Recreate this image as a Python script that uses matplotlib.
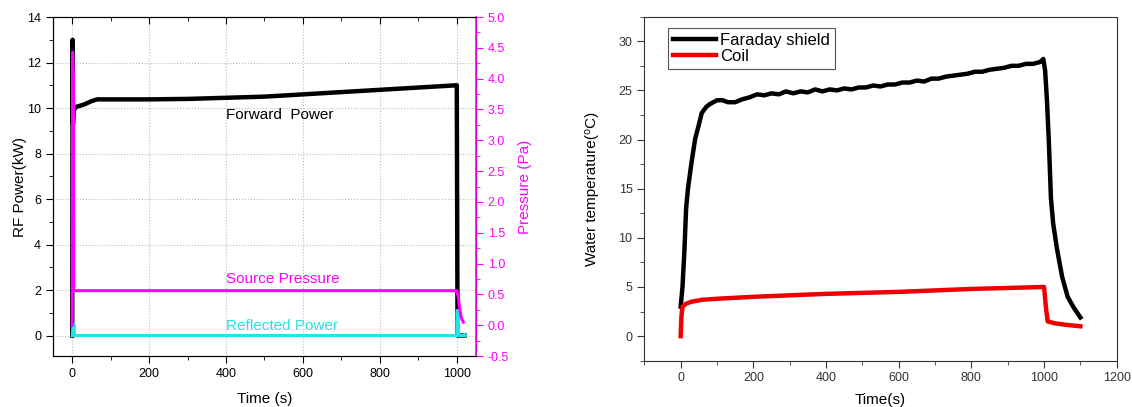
import numpy as np
import matplotlib.pyplot as plt

plt.rcParams['font.family'] = ['Liberation Sans', 'DejaVu Sans']

# left panel data (time s)
fwd_t = [0, 1, 2, 4, 10, 30, 50, 65, 100, 200, 300, 400, 500, 600, 700, 800, 900, 1000, 1002, 1020]
fwd_kw = [0, 13.0, 9.3, 9.9, 10.05, 10.15, 10.3, 10.38, 10.38, 10.38, 10.4, 10.45, 10.5, 10.6, 10.7, 10.8, 10.9, 11.0, 0.0, 0.0]

refl_t = [0, 2, 5, 6, 1000, 1001, 1004, 1005, 1018, 1020, 1022]
refl_kw = [0, 0.5, 0.5, 0, 0, 1.1, 1.1, 0, 0, 0.05, 0]

press_t = [0, 1, 3, 4, 200, 400, 600, 800, 1000, 1004, 1008, 1012, 1017]
press_pa = [0, 4.43, 4.0, 0.56, 0.56, 0.56, 0.56, 0.56, 0.56, 0.45, 0.25, 0.12, 0.05]

# right panel data
fs_t = [0, 5, 10, 15, 20, 30, 40, 50, 58, 70, 80, 100, 115, 130, 150, 170, 190, 210, 230, 250,
        270, 290, 310, 330, 350, 370, 390, 410, 430, 450, 470, 490, 510, 530, 550, 570, 590,
        610, 630, 650, 670, 690, 710, 730, 750, 770, 790, 810, 830, 850, 870, 890, 910, 930,
        950, 970, 990, 998, 1003, 1008, 1013, 1019, 1025, 1035, 1050, 1065, 1080, 1100]
fs_temp = [3.0, 5.0, 8.5, 13.0, 15.0, 17.7, 20.1, 21.5, 22.7, 23.3, 23.6, 24.0, 24.0, 23.8, 23.8,
           24.1, 24.3, 24.6, 24.5, 24.7, 24.6, 24.9, 24.7, 24.9, 24.8, 25.1, 24.9, 25.1, 25.0,
           25.2, 25.1, 25.3, 25.3, 25.5, 25.4, 25.6, 25.6, 25.8, 25.8, 26.0, 25.9, 26.2, 26.2,
           26.4, 26.5, 26.6, 26.7, 26.9, 26.9, 27.1, 27.2, 27.3, 27.5, 27.5, 27.7, 27.7, 27.9,
           28.2, 27.0, 24.0, 20.0, 14.0, 11.5, 9.0, 6.0, 4.0, 3.0, 1.9]

coil_t = [0, 2, 5, 15, 30, 60, 100, 200, 400, 600, 800, 1000, 1005, 1010, 1030, 1060, 1100]
coil_temp = [0, 2.0, 3.0, 3.3, 3.5, 3.7, 3.8, 4.0, 4.3, 4.5, 4.8, 5.0, 3.0, 1.5, 1.3, 1.15, 1.0]

MAG = '#ff00ff'
CYAN = '#1fe6e6'

fig = plt.figure(figsize=(11.32, 4.07), dpi=100)

# ---- left panel ----
ax = fig.add_axes([0.0468, 0.1253, 0.3737, 0.8329])
ax.plot(fwd_t, fwd_kw, color='black', lw=3.2, zorder=3)
ax.plot(refl_t, refl_kw, color=CYAN, lw=2.2, zorder=4)
ax.set_xlim(-50, 1050)
ax.set_ylim(-0.9, 14)
ax.set_xticks(np.arange(0, 1001, 200))
ax.set_xticks(np.arange(0, 1001, 100), minor=True)
ax.set_yticks(np.arange(0, 15, 2))
ax.set_yticks(np.arange(0, 15, 1), minor=True)
ax.tick_params(which='both', direction='out', labelsize=9, top=True)
ax.tick_params(which='major', length=5)
ax.tick_params(which='minor', length=3)
ax.grid(True, which='major', color='#bbbbbb', linestyle=':', lw=0.8)
ax.set_xlabel('Time (s)', fontsize=11, labelpad=8.5)
ax.set_ylabel('RF Power(kW)', fontsize=11, labelpad=0)
ax.text(400, 9.7, 'Forward  Power', fontsize=11, va='center')
ax.text(400, 2.5, 'Source Pressure', fontsize=11, va='center', color=MAG)
ax.text(400, 0.43, 'Reflected Power', fontsize=11, va='center', color=CYAN)
# tick marks on top pointing inward
for t in ax.xaxis.get_major_ticks() + ax.xaxis.get_minor_ticks():
    t.tick2line.set_marker(3)

ax2 = ax.twinx()
ax2.plot(press_t, press_pa, color=MAG, lw=2.2, zorder=3)
ax2.set_ylim(-0.5, 5.0)
ax2.set_yticks(np.arange(-0.5, 5.01, 0.5))
ax2.set_yticks(np.arange(-0.5, 5.01, 0.25), minor=True)
ax2.yaxis.set_major_formatter(plt.FormatStrFormatter('%.1f'))
ax2.tick_params(which='both', direction='out', labelsize=9, colors=MAG)
ax2.tick_params(which='major', length=5)
ax2.tick_params(which='minor', length=3)
ax2.spines['right'].set_color(MAG)
ax2.spines['right'].set_linewidth(1.2)
ax2.set_ylabel('Pressure (Pa)', fontsize=11, color=MAG, labelpad=6.5)

# ---- right panel ----
bx = fig.add_axes([0.5692, 0.1138, 0.4173, 0.8452])
bx.plot(fs_t, fs_temp, color='black', lw=3.2, label='Faraday shield', zorder=3)
bx.plot(coil_t, coil_temp, color='#ee0000', lw=3.2, label='Coil', zorder=4)
bx.set_xlim(-100, 1200)
bx.set_ylim(-2.5, 32.5)
bx.set_xticks(np.arange(0, 1201, 200))
bx.set_xticks(np.arange(-100, 1201, 100), minor=True)
bx.set_yticks(np.arange(0, 31, 5))
bx.set_yticks(np.arange(-2.5, 32.6, 2.5), minor=True)
bx.tick_params(which='both', direction='out', labelsize=9, colors='#333333')
bx.tick_params(which='major', length=5)
bx.tick_params(which='minor', length=3)
for s in bx.spines.values():
    s.set_color('#333333')
bx.set_xlabel('Time(s)', fontsize=11, labelpad=6)
bx.set_ylabel('Water temperature(\u2070C)', fontsize=11, labelpad=14)
leg = bx.legend(loc='upper left', bbox_to_anchor=(0.05, 0.968), borderaxespad=0,
                fontsize=12, handlelength=2.6, handletextpad=0.25, labelspacing=0.05,
                borderpad=0.3, fancybox=False, edgecolor='#555555', framealpha=1)
leg.get_frame().set_linewidth(0.8)

fig.savefig('out.png', dpi=100)
